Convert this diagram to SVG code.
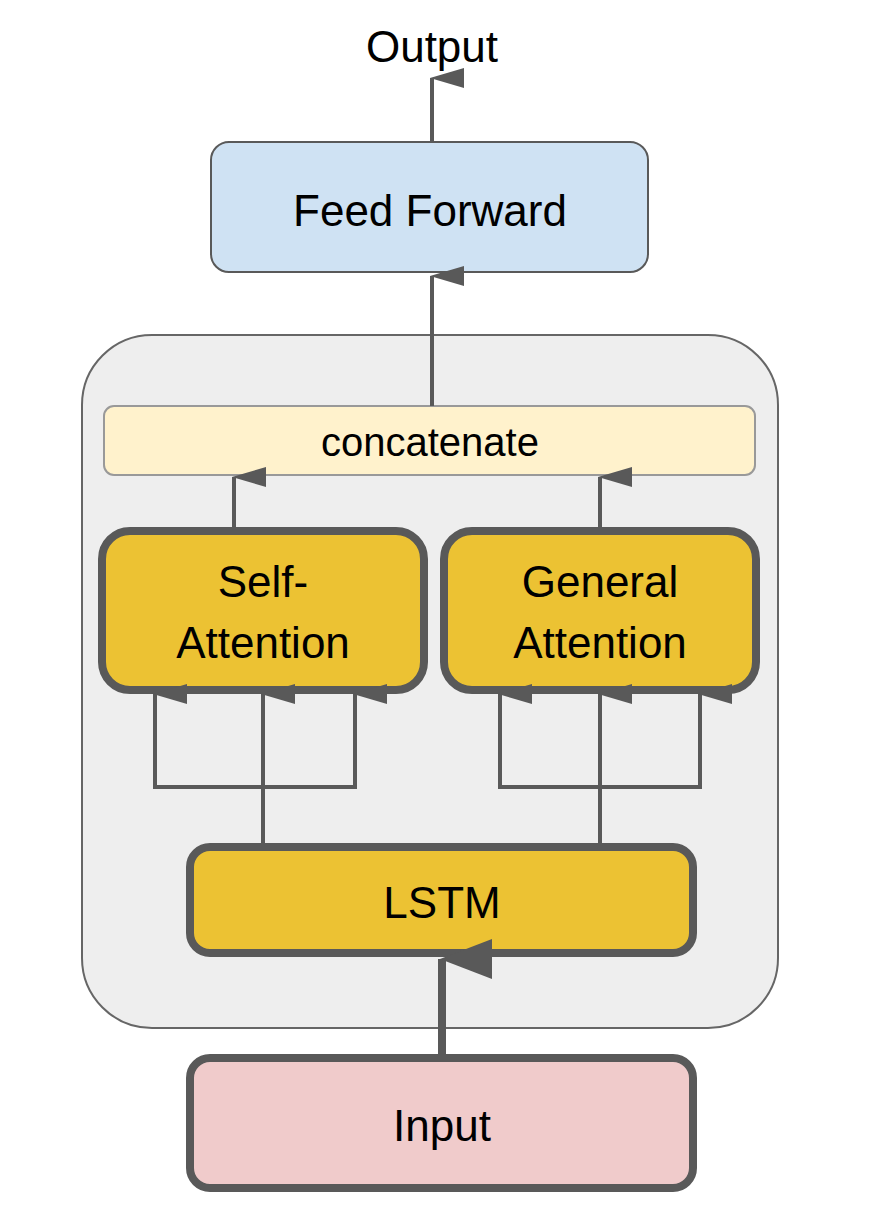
<svg xmlns="http://www.w3.org/2000/svg" width="878" height="1215" viewBox="0 0 878 1215">
<style>
text{font-family:"Liberation Sans",Arial,sans-serif;fill:#000;text-anchor:middle}
.c{fill:none;stroke:#595959;stroke-width:4}
.y{fill:#ecc233;stroke:#595959;stroke-width:8}
</style>
<defs>
<marker id="a" viewBox="0 0 20 34" refX="10" refY="2" markerUnits="userSpaceOnUse" markerWidth="20" markerHeight="34" orient="auto-start-reverse"><path d="M10 0L20 34H0Z" fill="#595959"/></marker>
<marker id="b" viewBox="0 0 40 52" refX="20" refY="2" markerUnits="userSpaceOnUse" markerWidth="40" markerHeight="52" orient="auto-start-reverse"><path d="M20 0L40 52H0Z" fill="#595959"/></marker>
</defs>
<rect id="container" x="82" y="335" width="696" height="693" rx="70" fill="#eeeeee" stroke="#666" stroke-width="2"/>
<g id="output"><text x="432" y="62" font-size="44">Output</text></g>
<g id="ff"><rect x="211" y="142" width="437" height="130" rx="18" fill="#cfe2f3" stroke="#595959" stroke-width="2"/><text x="430" y="226" font-size="44">Feed Forward</text></g>
<g id="concat"><rect x="104" y="406" width="651" height="69" rx="10" fill="#fff2cc" stroke="#999" stroke-width="2"/><text x="430" y="456" font-size="40">concatenate</text></g>
<g id="sa"><rect class="y" x="102" y="531" width="322" height="159" rx="28"/><text x="263" y="597" font-size="44">Self-</text><text x="263" y="658" font-size="44">Attention</text></g>
<g id="ga"><rect class="y" x="444" y="531" width="312" height="159" rx="28"/><text x="600" y="597" font-size="44">General</text><text x="600" y="658" font-size="44">Attention</text></g>
<g id="lstm"><rect class="y" x="190" y="847" width="503" height="106" rx="20"/><text x="442" y="918" font-size="44">LSTM</text></g>
<g id="input"><rect x="190" y="1058" width="503" height="130" rx="20" fill="#f0cbcb" stroke="#595959" stroke-width="8"/><text x="442" y="1141" font-size="44">Input</text></g>
<g id="connectors">
<path class="c" d="M432 142V78" marker-end="url(#a)"/>
<path class="c" d="M432 406V276" marker-end="url(#a)"/>
<path class="c" d="M234 531V477" marker-end="url(#a)"/>
<path class="c" d="M600 531V477" marker-end="url(#a)"/>
<path class="c" d="M263 847V694" marker-end="url(#a)"/>
<path class="c" d="M355 787H155V694" marker-end="url(#a)"/>
<path class="c" d="M155 787H355V694" marker-end="url(#a)"/>
<path class="c" d="M600 847V694" marker-end="url(#a)"/>
<path class="c" d="M700 787H500V694" marker-end="url(#a)"/>
<path class="c" d="M500 787H700V694" marker-end="url(#a)"/>
<path d="M442 1056V959" fill="none" stroke="#595959" stroke-width="8" marker-end="url(#b)"/>
</g>
</svg>
